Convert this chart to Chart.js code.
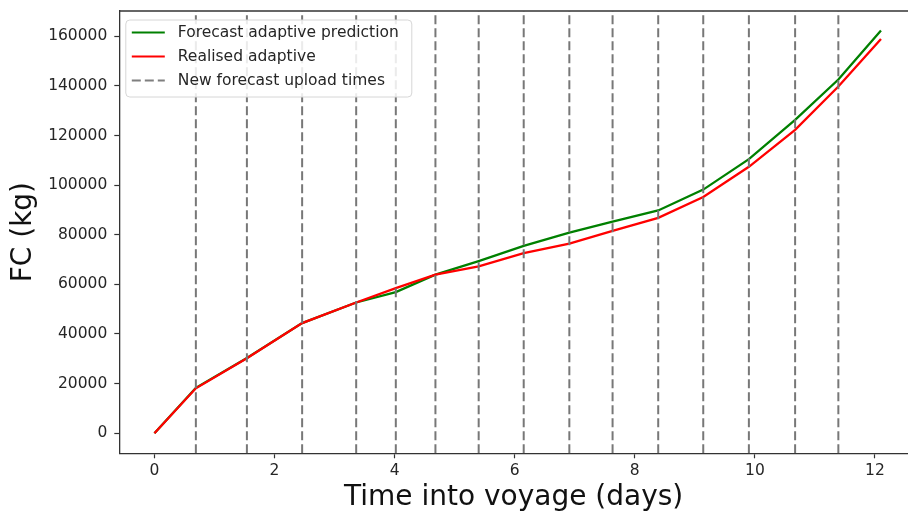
<!DOCTYPE html>
<html>
<head>
<meta charset="utf-8">
<script src="https://cdn.jsdelivr.net/npm/chart.js@4.4.0/dist/chart.umd.min.js"></script>
<style>
  html, body { margin: 0; padding: 0; background: #fff; overflow: hidden; }
  #box { width: 908px; height: 515px; position: relative; }
</style>
</head>
<body>
<div id="box"><canvas id="fc"></canvas></div>
<script>
// Fuel consumption along the voyage
const days = [0, 0.69, 1.54, 2.46, 3.36, 4.02, 4.68, 5.40, 6.15, 6.91, 7.63, 8.39, 9.14, 9.90, 10.67, 11.39, 12.10];
const forecastFC = [0, 18300, 30300, 44400, 52700, 56900, 63900, 69400, 75500, 80900, 85300, 89800, 98200, 110500, 126300, 142600, 162300];
const realisedFC = [0, 18100, 30200, 44400, 52700, 58500, 63900, 67300, 72600, 76400, 81600, 86800, 95200, 107400, 122300, 139750, 158900];
const uploadDays = [0.69, 1.54, 2.46, 3.36, 4.02, 4.68, 5.40, 6.15, 6.91, 7.63, 8.39, 9.14, 9.90, 10.67, 11.39];

const xTicks = [0, 2, 4, 6, 8, 10, 12];
const yTicks = [0, 20000, 40000, 60000, 80000, 100000, 120000, 140000, 160000];

// the source figure is cropped on the right, so the axis runs off the edge
const X_MIN = -0.585, X_MAX = 12.55;
const Y_MIN = -8100, Y_MAX = 170200;

const FONT = "'DejaVu Sans', sans-serif";
const INK = '#262626';

const legendItems = [
  { label: 'Forecast adaptive prediction', color: '#008000', dash: [] },
  { label: 'Realised adaptive', color: '#ff0000', dash: [] },
  { label: 'New forecast upload times', color: '#7f7f7f', dash: [9, 4] },
];

// top spine + legend box inside the plot, like matplotlib
const frameAndLegend = {
  id: 'frameAndLegend',
  afterDraw(chart) {
    const { ctx, chartArea } = chart;
    ctx.save();
    ctx.strokeStyle = '#333';
    ctx.lineWidth = 1.3;
    ctx.beginPath();
    ctx.moveTo(chartArea.left, chartArea.top);
    ctx.lineTo(chartArea.right, chartArea.top);
    ctx.stroke();

    let x0 = chartArea.left + 6.5, y0 = chartArea.top + 9;
    let w = 286, h = 77, r = 4;
    ctx.fillStyle = 'rgba(255,255,255,0.85)';
    ctx.strokeStyle = '#d6d6d6';
    ctx.lineWidth = 1;
    ctx.beginPath();
    ctx.roundRect(x0, y0, w, h, r);
    ctx.fill();
    ctx.stroke();

    ctx.font = '15.5px ' + FONT;
    ctx.textBaseline = 'middle';
    legendItems.forEach((it, i) => {
      let y = y0 + 12.5 + i * 24;
      ctx.strokeStyle = it.color;
      ctx.lineWidth = 2.2;
      ctx.setLineDash(it.dash);
      ctx.beginPath();
      ctx.moveTo(x0 + 6, y);
      ctx.lineTo(x0 + 39, y);
      ctx.stroke();
      ctx.setLineDash([]);
      ctx.fillStyle = INK;
      ctx.fillText(it.label, x0 + 52, y);
    });
    ctx.restore();
  }
};

const uploadSets = uploadDays.map((t, i) => ({
  label: 'upload ' + i,
  data: [{ x: t, y: Y_MIN }, { x: t, y: Y_MAX }],
  borderColor: '#777777',
  borderWidth: 2,
  borderDash: [9, 4],
  pointRadius: 0,
  order: 0,
}));

new Chart(document.getElementById('fc'), {
  type: 'line',
  data: {
    datasets: [
      {
        label: 'Forecast adaptive prediction',
        data: days.map((d, i) => ({ x: d, y: forecastFC[i] })),
        borderColor: '#008000',
        borderWidth: 2.3,
        pointRadius: 0,
        order: 2,
      },
      {
        label: 'Realised adaptive',
        data: days.map((d, i) => ({ x: d, y: realisedFC[i] })),
        borderColor: '#ff0000',
        borderWidth: 2.3,
        pointRadius: 0,
        order: 1,
      },
      ...uploadSets,
    ],
  },
  options: {
    responsive: true,
    maintainAspectRatio: false,
    animation: false,
    layout: { padding: { top: 11, right: 0, left: 0, bottom: 0 } },
    plugins: { legend: { display: false }, tooltip: { enabled: false } },
    scales: {
      x: {
        type: 'linear',
        min: X_MIN,
        max: X_MAX,
        afterBuildTicks: s => { s.ticks = xTicks.map(v => ({ value: v })); },
        afterFit: s => { s.height = 61.7; s.paddingLeft = 0; s.paddingRight = 0; },
        ticks: { color: INK, font: { family: FONT, size: 15.5 }, padding: 3, maxRotation: 0, callback: v => String(v) },
        grid: { drawOnChartArea: false, drawTicks: true, tickLength: 5, tickColor: '#333', tickWidth: 1.2 },
        border: { display: true, color: '#333', width: 1.3 },
        title: { display: true, text: 'Time into voyage (days)', color: '#111', font: { family: FONT, size: 28 }, padding: { top: 5, bottom: 0 } },
      },
      y: {
        min: Y_MIN,
        max: Y_MAX,
        afterBuildTicks: s => { s.ticks = yTicks.map(v => ({ value: v })); },
        afterFit: s => { s.width = 119.3; s.paddingTop = 0; s.paddingBottom = 0; },
        ticks: { color: INK, font: { family: FONT, size: 15.5 }, padding: 7, callback: v => String(v) },
        grid: { drawOnChartArea: false, drawTicks: true, tickLength: 5, tickColor: '#333', tickWidth: 1.2 },
        border: { display: true, color: '#333', width: 1.3 },
        title: { display: true, text: 'FC (kg)', color: '#111', font: { family: FONT, size: 28 }, padding: { top: 7, bottom: 2 } },
      },
    },
  },
  plugins: [frameAndLegend],
});
</script>
</body>
</html>
